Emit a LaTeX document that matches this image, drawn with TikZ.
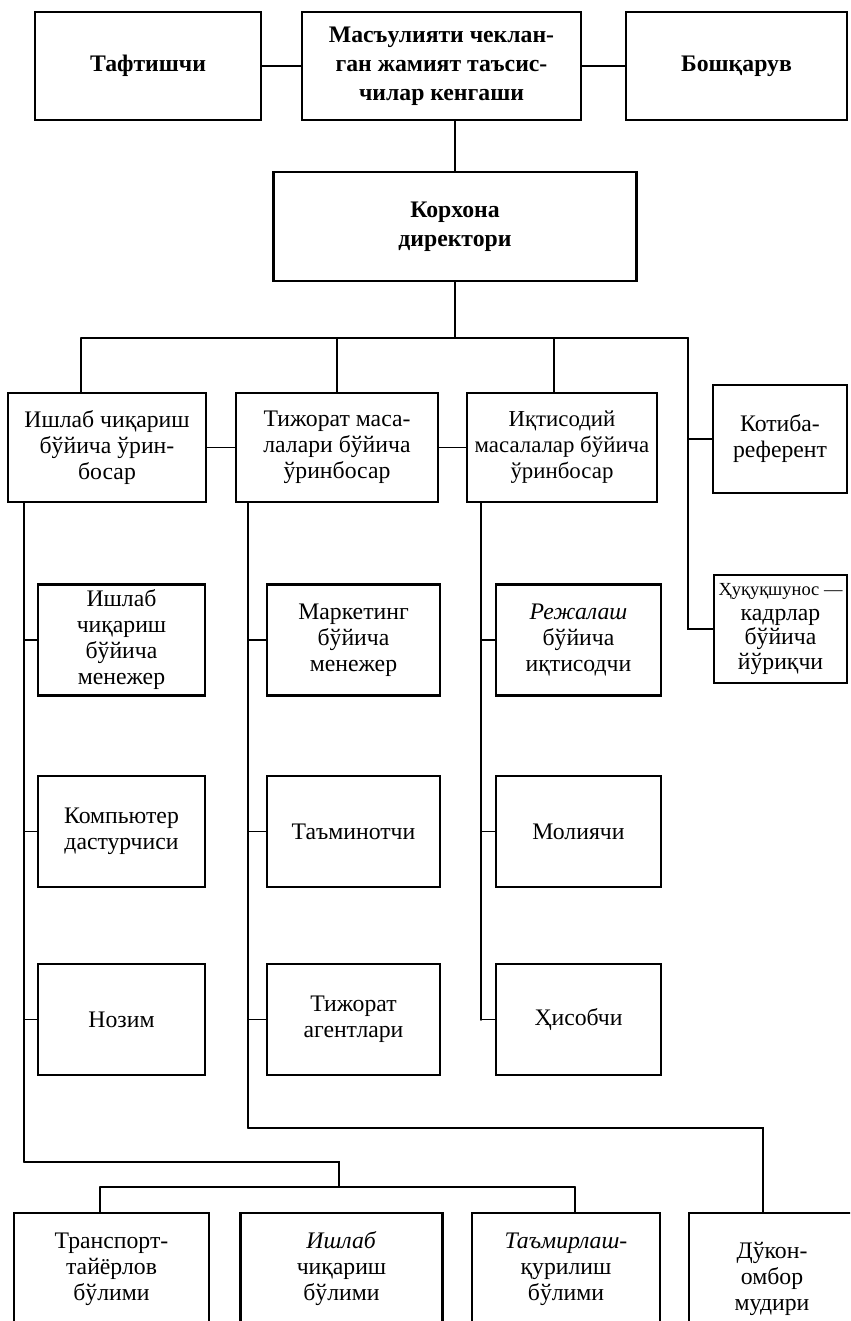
\documentclass[tikz,border=0pt]{standalone}
\usepackage{fontspec}
\setmainfont{Liberation Serif}
\begin{document}
\begin{tikzpicture}[x=0.02cm, y=-0.02cm, line width=1pt, line cap=round,
	font=\fontsize{13.5}{14.8}\selectfont,
	box/.style={draw, line width=1.3pt, align=center, inner sep=0pt, minimum height=2.22cm},
	head/.style={box, font=\fontsize{13.5}{16.5}\selectfont\bfseries, minimum height=2.16cm}]
	\useasboundingbox (0,0) rectangle (850,1321);
	\clip (0,0) rectangle (850,1321);
	% top
	\node[head, minimum width=4.52cm] (taft) at (148,66) {Тафтишчи};
	\node[head, minimum width=5.58cm] (kengash) at (441.5,66) {Масъулияти чеклан-\\ган жамият таъсис-\\чилар кенгаши};
	\node[head, minimum width=4.42cm] (boshq) at (736.5,66) {Бошқарув};
	\node[head, minimum width=7.26cm, minimum height=2.18cm] (direktor) at (455,226.5) {Корхона\\директори};
	\draw (taft) -- (kengash);
	\draw (kengash) -- (boshq);
	\draw (kengash.south -| direktor.north) -- (direktor.north);
	% deputies
	\node[box, minimum width=3.96cm, minimum height=2.18cm] (zam1) at (107,447.5) {Ишлаб чиқариш\\бўйича ўрин-\\босар};
	\node[box, minimum width=4.04cm, minimum height=2.18cm] (zam2) at (337,447.5) {Тижорат маса-\\лалари бўйича\\ўринбосар};
	\node[box, minimum width=3.80cm, minimum height=2.18cm, font=\fontsize{13}{14.8}\selectfont] (zam3) at (562,447.5) {Иқтисодий\\масалалар бўйича\\ўринбосар};
	\node[box, minimum width=2.68cm, minimum height=2.16cm] (kotiba) at (780,439) {Котиба-\\референт};
	\node[box, minimum width=2.66cm, minimum height=2.16cm, font=\fontsize{13.5}{14.2}\selectfont] (huquq) at (780.5,629) {{\fontsize{10.5}{14.2}\selectfont Ҳуқуқшунос —}\\кадрлар\\бўйича\\йўриқчи};
	\coordinate (b1) at (81,338);
	\coordinate (b3) at (554,338);
	\coordinate (b4) at (688,338);
	\draw (direktor) -- (direktor |- b1);
	\draw (b1) -- (b4);
	\draw (b1) -- (b1 |- zam1.north);
	\draw (zam2) -- (zam2 |- b1);
	\draw (b3) -- (b3 |- zam3.north);
	\draw (b4) |- (kotiba);
	\draw (b4) |- (huquq);
	\draw (zam1) -- (zam2);
	\draw (zam2) -- (zam3);
	% staff
	\node[box, minimum width=3.34cm] (i1) at (121.5,640) {Ишлаб\\чиқариш\\бўйича\\менежер};
	\node[box, minimum width=3.34cm] (i2) at (121.5,831.5) {Компьютер\\дастурчиси};
	\node[box, minimum width=3.34cm] (i3) at (121.5,1019.5) {Нозим};
	\node[box, minimum width=3.46cm] (t1) at (353.5,640) {Маркетинг\\бўйича\\менежер};
	\node[box, minimum width=3.46cm] (t2) at (353.5,831.5) {Таъминотчи};
	\node[box, minimum width=3.46cm] (t3) at (353.5,1019.5) {Тижорат\\агентлари};
	\node[box, minimum width=3.30cm] (q1) at (578.5,640) {\textit{Режалаш}\\бўйича\\иқтисодчи};
	\node[box, minimum width=3.30cm] (q2) at (578.5,831.5) {Молиячи};
	\node[box, minimum width=3.30cm] (q3) at (578.5,1019.5) {Ҳисобчи};
	\coordinate (s1) at (24,1162);
	\coordinate (s2) at (248,1128);
	\coordinate (s3) at (481,1020);
	\draw (zam1.south -| s1) -- (s1);
	\draw (zam2.south -| s2) -- (s2);
	\draw (zam3.south -| s3) -- (s3);
	\foreach \n in {i1,i2,i3} \draw (s1 |- \n) -- (\n);
	\foreach \n in {t1,t2,t3} \draw (s2 |- \n) -- (\n);
	\foreach \n in {q1,q2,q3} \draw (s3 |- \n) -- (\n);
	% departments
	\node[box, minimum width=3.90cm, minimum height=2.24cm] (bo1) at (111.5,1269) {Транспорт-\\тайёрлов\\бўлими};
	\node[box, minimum width=4.04cm, minimum height=2.24cm] (bo2) at (341.5,1269) {\textit{Ишлаб}\\чиқариш\\бўлими};
	\node[box, minimum width=3.76cm, minimum height=2.24cm] (bo3) at (566,1269) {\textit{Таъмирлаш-}\\қурилиш\\бўлими};
	\node[box, minimum width=3.32cm, minimum height=2.64cm] (dukon) at (772,1279) {Дўкон-\\омбор\\мудири};
	\coordinate (d1) at (339,1187);
	\coordinate (e1) at (100,1187);
	\coordinate (e3) at (575,1187);
	\coordinate (e4) at (763,1128);
	\draw (s1) -| (d1);
	\draw (e1) -- (e3);
	\draw (e1) -- (e1 |- bo1.north);
	\draw (e3) -- (e3 |- bo3.north);
	\draw (s2) -- (e4) -- (e4 |- dukon.north);
\end{tikzpicture}
\end{document}
